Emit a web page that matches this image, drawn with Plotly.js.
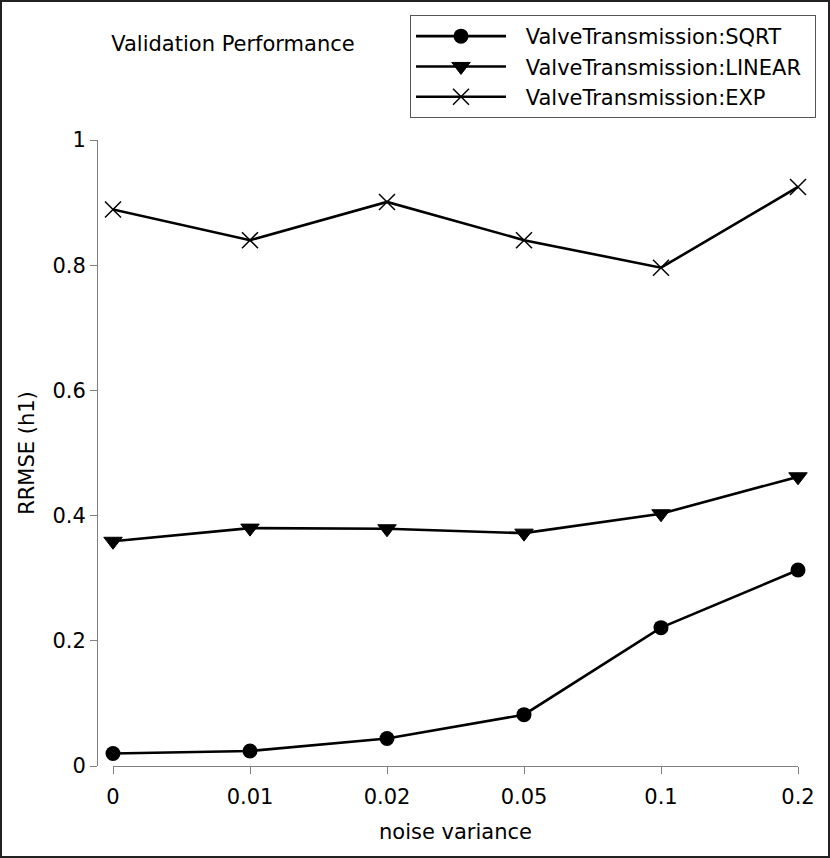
<!DOCTYPE html>
<html>
<head>
<meta charset="utf-8">
<script src="https://cdn.plot.ly/plotly-3.0.1.min.js"></script>
<style>
html,body{margin:0;padding:0;background:#fff;}
#frame{box-sizing:border-box;width:830px;height:858px;border:2px solid #222;}
#chart{width:826px;height:854px;}
</style>
</head>
<body>
<div id="frame"><div id="chart"></div></div>
<script>
var categories = ["0", "0.01", "0.02", "0.05", "0.1", "0.2"];
var sqrtValues = [0.020, 0.024, 0.044, 0.082, 0.221, 0.313];
var linearValues = [0.359, 0.380, 0.379, 0.372, 0.403, 0.462];
var expValues = [0.889, 0.840, 0.901, 0.840, 0.796, 0.925];
var seriesNames = ["ValveTransmission:SQRT", "ValveTransmission:LINEAR", "ValveTransmission:EXP"];
var yTicks = [0, 0.2, 0.4, 0.6, 0.8, 1];
var yTickLabels = ["0", "0.2", "0.4", "0.6", "0.8", "1"];

var FONT = "DejaVu Sans, Verdana, sans-serif";
var FS = 21;
var GAP = "\u2002\u2009";
var TAIL = "\u2009\u2009";

var traces = [
  {x: categories, y: sqrtValues, name: GAP + seriesNames[0] + TAIL, type: "scatter", mode: "lines+markers",
   cliponaxis: false,
   line: {color: "#000", width: 2.6},
   marker: {symbol: "circle", size: 15, color: "#000"}},
  {x: categories, y: linearValues, name: GAP + seriesNames[1] + TAIL, type: "scatter", mode: "lines+markers",
   cliponaxis: false,
   line: {color: "#000", width: 2.6},
   marker: {symbol: "triangle-down", size: 16, color: "#000", line: {color: "#000", width: 1}}},
  {x: categories, y: expValues, name: GAP + seriesNames[2] + TAIL, type: "scatter", mode: "lines+markers",
   cliponaxis: false,
   line: {color: "#000", width: 2.6},
   marker: {symbol: "x-thin-open", size: 16, color: "#000", line: {color: "#000", width: 1.5}}}
];

var layout = {
  width: 826, height: 854,
  paper_bgcolor: "#fff", plot_bgcolor: "#fff",
  font: {family: FONT, size: FS, color: "#000"},
  margin: {l: 95, r: 30, t: 138, b: 90, pad: 0},
  showlegend: true,
  title: {text: "Validation Performance", x: 231 / 826, xanchor: "center", xref: "container",
          y: 1 - 42 / 854, yanchor: "middle", yref: "container",
          font: {family: FONT, size: FS, color: "#000"}},
  xaxis: {
    type: "category", range: [0, 5], domain: [16 / 701, 1],
    showline: true, linecolor: "#808080", linewidth: 1.3,
    ticks: "outside", ticklen: 7, tickcolor: "#808080", tickwidth: 1,
    ticklabelstandoff: 4,
    showgrid: false, zeroline: false,
    tickfont: {family: FONT, size: FS, color: "#000"},
    title: {text: "noise variance", font: {family: FONT, size: FS, color: "#000"}, standoff: 16}
  },
  yaxis: {
    range: [0, 1], anchor: "free", position: 0,
    tickvals: yTicks, ticktext: yTickLabels,
    showline: true, linecolor: "#808080", linewidth: 1.3,
    ticks: "outside", ticklen: 7, tickcolor: "#808080", tickwidth: 1,
    showgrid: false, zeroline: false,
    tickfont: {family: FONT, size: FS, color: "#000"},
    title: {text: "RRMSE (h1)", font: {family: FONT, size: FS, color: "#000"}, standoff: 10}
  },
  legend: {
    x: (408 - 95) / 701, y: 1 + (138 - 13) / 626, xanchor: "left", yanchor: "top",
    bordercolor: "#555", borderwidth: 1, bgcolor: "#fff",
    font: {family: FONT, size: FS, color: "#000"},
    itemwidth: 90, tracegroupgap: 0
  }
};

Plotly.newPlot("chart", traces, layout, {staticPlot: true, displayModeBar: false});
</script>
</body>
</html>
